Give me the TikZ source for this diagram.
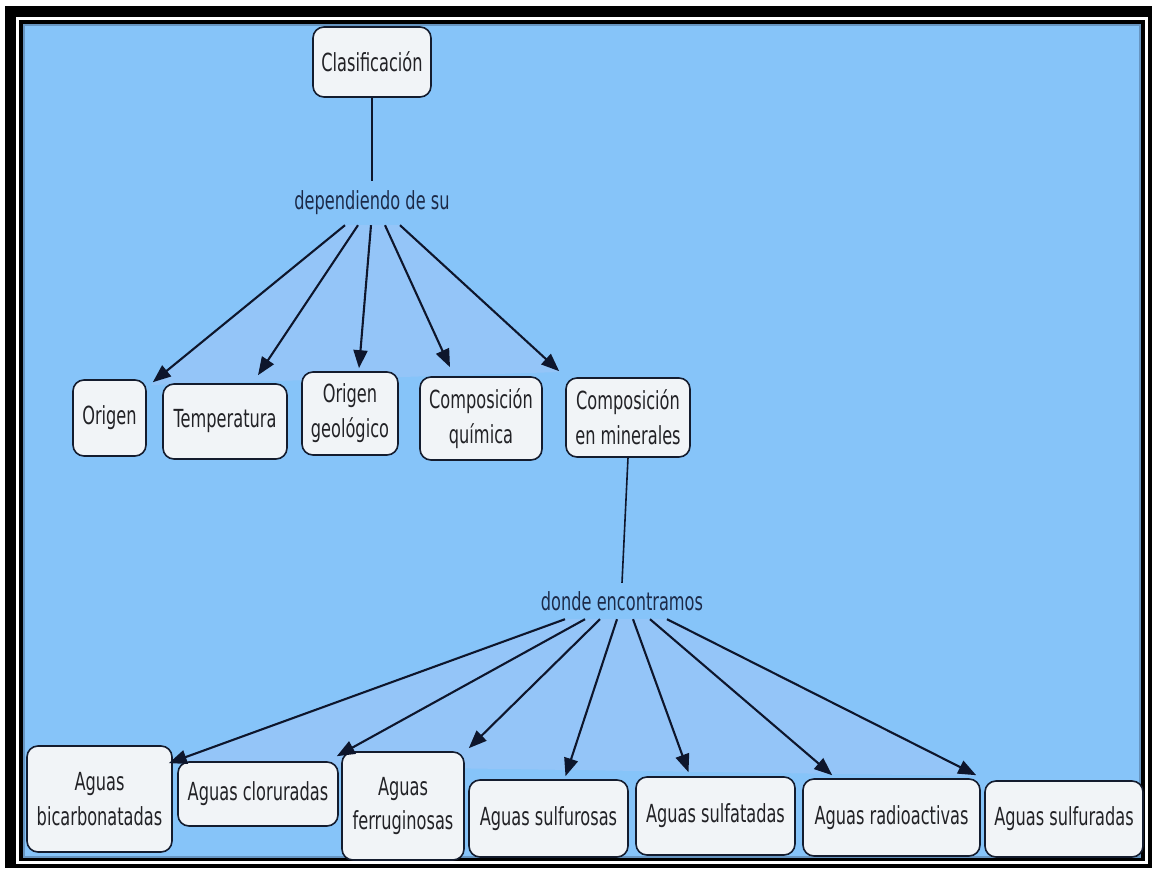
\documentclass[tikz,border=0pt]{standalone}
\usepackage{fontspec}
\setmainfont{DejaVu Sans}[FakeStretch=0.65]
\usetikzlibrary{arrows.meta,calc}

\definecolor{skyblue}{RGB}{134,196,249}
\definecolor{fanblue}{RGB}{148,197,248}
\definecolor{edgeblue}{RGB}{90,130,170}
\definecolor{boxfill}{RGB}{241,244,247}
\definecolor{boxline}{RGB}{20,28,46}
\definecolor{linkcol}{RGB}{14,22,44}
\definecolor{labelcol}{RGB}{28,42,72}
\definecolor{textcol}{RGB}{34,34,38}

\tikzset{
  concept/.style={draw=boxline, line width=1.6bp, fill=boxfill, rounded corners=11bp,
    inner sep=0pt, align=center, text=textcol,
    font=\fontsize{25}{35}\selectfont},
  linkword/.style={inner sep=0pt, text=labelcol, font=\fontsize{25}{30}\selectfont},
  plainlink/.style={draw=linkcol, line width=1.6bp},
  arrowlink/.style={draw=linkcol, line width=2.1bp, -{Triangle[length=18bp,width=14bp]}},
  fan/.style={fill=fanblue}
}

\begin{document}
\begin{tikzpicture}[x=1bp,y=-1bp]
  \useasboundingbox (0,0) rectangle (1157,871);
  % framed backdrop
  \fill[white] (0,0) rectangle (1157,871);
  \fill[black] (5,6) rectangle (1152,868);
  \fill[white] (16,17) rectangle (1148,864);
  \fill[black] (19,20) rectangle (1145,861);
  \fill[skyblue] (23,24) rectangle (1141,858);
  \draw[edgeblue, line width=2bp, opacity=0.7] (24,25) rectangle (1140,857);

  % light fans under the two groups of arrows
  \fill[fan] (345,225) -- (151,385) -- (560,372) -- (400,225) -- cycle;
  \fill[fan] (565,619) -- (168,764) -- (977,776) -- (667,619) -- cycle;

  % concepts
  \node[concept, minimum width=118bp, minimum height=70bp] (clas) at (372,62) {Clasificación};
  \node[linkword, minimum height=44bp] (dep) at (372,203) {dependiendo de su};

  \node[concept, minimum width=73bp, minimum height=76bp] (origen) at (109.5,418) {Origen};
  \node[concept, minimum width=124bp, minimum height=75bp] (temp) at (225,421.5) {Temperatura};
  \node[concept, minimum width=96bp, minimum height=83bp] (ogeo) at (350,413.5) {Origen\\geológico};
  \node[concept, minimum width=122bp, minimum height=83bp] (cquim) at (481,418.5) {Composición\\química};
  \node[concept, minimum width=124bp, minimum height=79bp] (cmin) at (628,417.5) {Composición\\en minerales};

  \node[linkword, minimum height=36bp] (donde) at (622,601) {donde encontramos};

  \node[concept, minimum width=145bp, minimum height=106bp] (bic) at (99.5,799) {Aguas\\bicarbonatadas};
  \node[concept, minimum width=160bp, minimum height=64bp] (clor) at (258,794) {Aguas cloruradas};
  \node[concept, minimum width=122bp, minimum height=108bp] (ferr) at (403,806) {Aguas\\ferruginosas};
  \node[concept, minimum width=159bp, minimum height=77bp] (sulfo) at (548.5,818.5) {Aguas sulfurosas};
  \node[concept, minimum width=159bp, minimum height=78bp] (sulfa) at (715.5,816) {Aguas sulfatadas};
  \node[concept, minimum width=177bp, minimum height=77bp] (radio) at (891.5,817.5) {Aguas radioactivas};
  \node[concept, minimum width=158bp, minimum height=76bp] (sulfu) at (1064,819) {Aguas sulfuradas};

  % connectors
  \draw[plainlink] (clas.south) -- (dep.north);
  \draw[arrowlink] ($(dep.south)+(-27,0)$) -- ($(origen.north east)+(6,3)$);
  \draw[arrowlink] ($(dep.south)+(-14,0)$) -- ($(temp.north)+(33,-8)$);
  \draw[arrowlink] ($(dep.south)+(-1,0)$) -- ($(ogeo.north)+(9,-3)$);
  \draw[arrowlink] ($(dep.south)+(13,0)$) -- ($(cquim.north)+(-31,-9)$);
  \draw[arrowlink] ($(dep.south)+(28,0)$) -- ($(cmin.north west)+(-6,-6)$);

  \draw[plainlink] (cmin.south) -- (donde.north);
  \draw[arrowlink] ($(donde.south)+(-57,0)$) -- ($(bic.north east)+(-4,18)$);
  \draw[arrowlink] ($(donde.south)+(-37,0)$) -- ($(clor.north east)+(-2,-5)$);
  \draw[arrowlink] ($(donde.south)+(-22,0)$) -- ($(ferr.north east)+(4,-3)$);
  \draw[arrowlink] ($(donde.south)+(-5,0)$) -- ($(sulfo.north)+(17,-3)$);
  \draw[arrowlink] ($(donde.south)+(11,0)$) -- ($(sulfa.north)+(-27,-4)$);
  \draw[arrowlink] ($(donde.south)+(28,0)$) -- ($(radio.north west)+(30,-3)$);
  \draw[arrowlink] ($(donde.south)+(45,0)$) -- ($(sulfu.north west)+(-8,-5)$);
\end{tikzpicture}
\end{document}
